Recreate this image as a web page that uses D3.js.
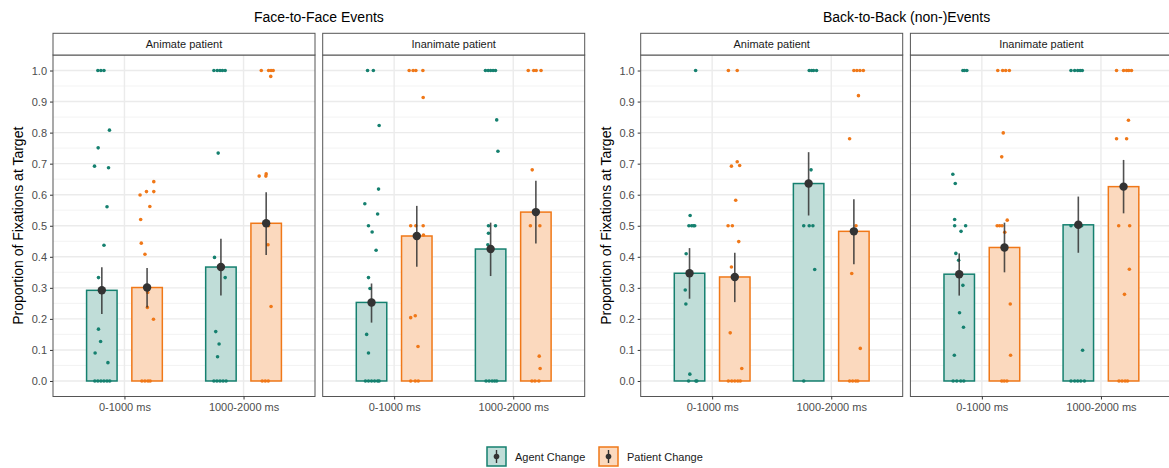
<!DOCTYPE html>
<html>
<head>
<meta charset="utf-8">
<script src="https://cdn.jsdelivr.net/npm/d3@7"></script>
<style>
  body { margin: 0; background: #fff; overflow: hidden; }
  svg { display: block; font-family: "Liberation Sans", Arial, sans-serif; }
</style>
</head>
<body>
<div id="chart"></div>
<script>
// chart data
var groupTitles = ["Face-to-Face Events", "Back-to-Back (non-)Events"];
var facetLabels = ["Animate patient", "Inanimate patient"];
var windows = ["0-1000 ms", "1000-2000 ms"];
var conditions = ["Agent Change", "Patient Change"];
var yTicks = [0, 0.1, 0.2, 0.3, 0.4, 0.5, 0.6, 0.7, 0.8, 0.9, 1.0];

// means per panel: [window][condition]
var meansF2F_Anim = [[0.292, 0.301], [0.367, 0.508]];
var meansF2F_Inan = [[0.253, 0.467], [0.425, 0.544]];
var meansB2B_Anim = [[0.347, 0.335], [0.636, 0.482]];
var meansB2B_Inan = [[0.344, 0.430], [0.503, 0.626]];

// error bar [low, high] per panel: [window][condition]
var ciF2F_Anim = [[[0.216, 0.366], [0.237, 0.364]], [[0.275, 0.458], [0.406, 0.608]]];
var ciF2F_Inan = [[[0.188, 0.314], [0.368, 0.564]], [[0.338, 0.510], [0.443, 0.645]]];
var ciB2B_Anim = [[[0.265, 0.428], [0.254, 0.413]], [[0.533, 0.737], [0.376, 0.585]]];
var ciB2B_Inan = [[[0.275, 0.411], [0.350, 0.510]], [[0.413, 0.594], [0.540, 0.712]]];

// individual observations [value, jitter (fraction of bar width)]
// order: [window][condition]
var obsF2F_Anim = [
  [
    [[1,-0.13],[1,-0.03],[1,0.07],[0.808,0.25],[0.751,-0.12],[0.692,-0.24],[0.687,0.22],[0.561,0.17],[0.437,0.07],[0.333,-0.11],[0.167,-0.11],[0.127,-0.04],[0.09,-0.22],[0.059,0.2],[0,-0.23],[0,-0.13],[0,-0.03],[0,0.07],[0,0.17],[0,0.26]],
    [[0.642,0.22],[0.61,-0.02],[0.61,0.22],[0.599,-0.23],[0.562,0.09],[0.52,-0.21],[0.444,-0.19],[0.408,-0.07],[0.285,0.02],[0.237,0.01],[0.199,0.21],[0,-0.17],[0,-0.07],[0,0.03],[0,0.1]]
  ],
  [
    [[1,-0.23],[1,-0.12],[1,-0.03],[1,0.05],[1,0.14],[0.734,-0.09],[0.398,-0.21],[0.333,0.14],[0.159,-0.17],[0.119,-0.06],[0.078,-0.11],[0,-0.23],[0,-0.13],[0,-0.03],[0,0.07],[0,0.17]],
    [[1,-0.16],[1,0.08],[1,0.16],[1,0.23],[0.981,0.15],[0.667,0],[0.66,-0.01],[0.66,-0.23],[0.5,0.08],[0.439,0.06],[0.24,0.16],[0,-0.13],[0,-0.03],[0,0.07]]
  ]
];
var obsF2F_Inan = [
  [
    [[1,-0.13],[1,0.06],[0.823,0.25],[0.618,0.23],[0.571,-0.22],[0.538,0.2],[0.5,-0.1],[0.48,0.02],[0.421,0.15],[0.333,-0.1],[0.298,-0.05],[0.15,-0.16],[0.09,-0.1],[0,-0.2],[0,-0.1],[0,0],[0,0.1],[0,0.2],[0,0.25]],
    [[1,-0.25],[1,-0.12],[1,-0.03],[1,0.2],[0.913,0.21],[0.5,-0.2],[0.5,-0.03],[0.5,0.21],[0.47,0.22],[0.21,-0.05],[0.204,-0.2],[0.111,0.04],[0,-0.2],[0,-0.05],[0,0.05]]
  ],
  [
    [[1,-0.17],[1,-0.08],[1,0],[1,0.08],[1,0.16],[0.841,0.2],[0.74,0.24],[0.5,-0.07],[0.5,0.16],[0.476,-0.07],[0.439,-0.09],[0,-0.15],[0,-0.05],[0,0.05],[0,0.13],[0,0.2]],
    [[1,-0.25],[1,-0.07],[1,0.01],[1,0.17],[0.68,-0.12],[0.5,-0.18],[0.5,0.13],[0.08,0.11],[0.04,0.14],[0,-0.13],[0,-0.03],[0,0.1]]
  ]
];
var obsB2B_Anim = [
  [
    [[1,0.2],[0.533,0.02],[0.5,-0.02],[0.5,0.07],[0.5,0.13],[0.5,0.17],[0.41,-0.11],[0.293,-0.14],[0.248,-0.12],[0.022,0.01],[0,-0.03],[0,0.21],[0,0.24]],
    [[1,-0.21],[1,0.08],[0.706,0.08],[0.694,0.16],[0.692,-0.11],[0.582,0.03],[0.5,-0.22],[0.5,-0.08],[0.449,0.13],[0.367,-0.11],[0.155,-0.15],[0.04,0.23],[0,-0.21],[0,-0.1],[0,0],[0,0.1],[0,0.18]]
  ],
  [
    [[1,0.02],[1,0.1],[1,0.16],[1,0.26],[0.68,0.08],[0.5,-0.16],[0.5,0.02],[0.5,0.14],[0.359,0.2],[0,-0.16]],
    [[1,0],[1,0.1],[1,0.2],[1,0.31],[0.919,0.15],[0.78,-0.14],[0.5,0.07],[0.346,-0.07],[0.105,0.21],[0,-0.14],[0,-0.04],[0,0.06],[0,0.13]]
  ]
];
var obsB2B_Inan = [
  [
    [[1,0.12],[1,0.17],[1,0.25],[0.666,-0.21],[0.636,-0.13],[0.52,-0.15],[0.5,-0.15],[0.5,0.21],[0.482,0.06],[0.411,-0.11],[0.389,-0.02],[0.308,0.12],[0.22,0.01],[0.173,0.14],[0.083,-0.16],[0,-0.2],[0,-0.08],[0,0.05],[0,0.15]],
    [[1,-0.22],[1,-0.06],[1,0.04],[1,0.16],[0.799,-0.04],[0.722,-0.09],[0.518,0.09],[0.5,-0.24],[0.5,-0.16],[0.5,-0.08],[0.479,0.01],[0.248,0.19],[0.083,0.2],[0,-0.09],[0,-0.01],[0,0.08]]
  ],
  [
    [[1,-0.24],[1,-0.12],[1,-0.02],[1,0.06],[1,0.13],[0.5,-0.24],[0.5,-0.08],[0.5,0.11],[0.099,0.14],[0,-0.24],[0,-0.12],[0,-0.02],[0,0.08],[0,0.2]],
    [[1,-0.23],[1,0],[1,0.1],[1,0.17],[1,0.26],[0.84,0.16],[0.78,-0.23],[0.78,0.1],[0.5,-0.16],[0.5,0.2],[0.36,0.19],[0.279,0.03],[0,-0.15],[0,-0.05],[0,0.05],[0,0.13]]
  ]
];

var lineColors = ["#15806f", "#f07818"];
var fillColors = ["#c0ddd8", "#fbd9be"];

var width = 1169, height = 468;
var svg = d3.select("#chart").append("svg")
  .attr("width", width)
  .attr("height", height);

var panelW = 262, plotTop = 55, plotBottom = 396.5, stripTop = 33.3;
var groupLeft = [53, 640.7];
var panelGap = 7.7;

// y scale (ggplot default expansion of 5%)
var y = d3.scaleLinear().domain([-0.05, 1.05]).range([plotBottom, plotTop]);

// panel list built from the arrays above
var panels = [
  { g: 0, f: 0, means: meansF2F_Anim, ci: ciF2F_Anim, obs: obsF2F_Anim },
  { g: 0, f: 1, means: meansF2F_Inan, ci: ciF2F_Inan, obs: obsF2F_Inan },
  { g: 1, f: 0, means: meansB2B_Anim, ci: ciB2B_Anim, obs: obsB2B_Anim },
  { g: 1, f: 1, means: meansB2B_Inan, ci: ciB2B_Inan, obs: obsB2B_Inan }
];

var dodge = 0.19, barW = 0.256;

// group titles and y-axis titles
groupTitles.forEach(function(t, gi) {
  var left = groupLeft[gi];
  svg.append("text")
    .attr("x", left + panelW + panelGap / 2)
    .attr("y", 22)
    .attr("text-anchor", "middle")
    .attr("font-size", 14)
    .attr("fill", "#000")
    .text(t);
  svg.append("text")
    .attr("transform", "translate(" + (left - 30) + "," + ((plotTop + plotBottom) / 2) + ") rotate(-90)")
    .attr("text-anchor", "middle")
    .attr("font-size", 14)
    .attr("fill", "#000")
    .text("Proportion of Fixations at Target");

  // y axis on the first panel of each group
  var ax = svg.append("g")
    .attr("transform", "translate(" + left + ",0)")
    .call(d3.axisLeft(y).tickValues(yTicks).tickFormat(d3.format(".1f")).tickSize(3).tickPadding(3));
  ax.select(".domain").remove();
  ax.selectAll(".tick line").attr("stroke", "#333").attr("stroke-width", 1);
  ax.selectAll(".tick text").attr("fill", "#4d4d4d").attr("font-size", 11)
    .attr("font-family", "Liberation Sans, Arial, sans-serif");
});

panels.forEach(function(p) {
  var x0 = groupLeft[p.g] + p.f * (panelW + panelGap);
  var g = svg.append("g").attr("transform", "translate(" + x0 + ",0)");
  var x = d3.scaleLinear().domain([0.4, 2.6]).range([0, panelW]);
  var unit = x(1) - x(0);

  // panel background + grid
  g.append("rect").attr("x", 0).attr("y", plotTop).attr("width", panelW)
    .attr("height", plotBottom - plotTop).attr("fill", "#fff");
  d3.range(-0.05, 1.06, 0.1).forEach(function(v) {
    g.append("line").attr("x1", 0).attr("x2", panelW).attr("y1", y(v)).attr("y2", y(v))
      .attr("stroke", "#f0f0f0").attr("stroke-width", 0.8);
  });
  yTicks.forEach(function(v) {
    g.append("line").attr("x1", 0).attr("x2", panelW).attr("y1", y(v)).attr("y2", y(v))
      .attr("stroke", "#ebebeb").attr("stroke-width", 1.4);
  });
  windows.forEach(function(w, wi) {
    g.append("line").attr("x1", x(wi + 1)).attr("x2", x(wi + 1))
      .attr("y1", plotTop).attr("y2", plotBottom)
      .attr("stroke", "#ebebeb").attr("stroke-width", 1.4);
  });

  // bars
  windows.forEach(function(w, wi) {
    conditions.forEach(function(c, ci) {
      var cx = x(wi + 1 + (ci === 0 ? -dodge : dodge));
      var m = p.means[wi][ci];
      g.append("rect")
        .attr("x", cx - barW * unit / 2)
        .attr("y", y(m))
        .attr("width", barW * unit)
        .attr("height", y(0) - y(m))
        .attr("fill", fillColors[ci])
        .attr("stroke", lineColors[ci])
        .attr("stroke-width", 1.5);
    });
  });

  // jittered observations
  windows.forEach(function(w, wi) {
    conditions.forEach(function(c, ci) {
      var cx = x(wi + 1 + (ci === 0 ? -dodge : dodge));
      g.selectAll(null).data(p.obs[wi][ci]).enter().append("circle")
        .attr("cx", function(d) { return cx + d[1] * barW * unit; })
        .attr("cy", function(d) { return y(d[0]); })
        .attr("r", 1.8)
        .attr("fill", lineColors[ci]);
    });
  });

  // error bars and means
  windows.forEach(function(w, wi) {
    conditions.forEach(function(c, ci) {
      var cx = x(wi + 1 + (ci === 0 ? -dodge : dodge));
      var r = p.ci[wi][ci];
      g.append("line").attr("x1", cx).attr("x2", cx)
        .attr("y1", y(r[0])).attr("y2", y(r[1]))
        .attr("stroke", "#333").attr("stroke-opacity", 0.85).attr("stroke-width", 1.6);
      g.append("circle").attr("cx", cx).attr("cy", y(p.means[wi][ci]))
        .attr("r", 4.2).attr("fill", "#333");
    });
  });

  // panel border
  g.append("rect").attr("x", 0).attr("y", plotTop).attr("width", panelW)
    .attr("height", plotBottom - plotTop).attr("fill", "none")
    .attr("stroke", "#555").attr("stroke-width", 1);

  // strip
  g.append("rect").attr("x", 0).attr("y", stripTop).attr("width", panelW)
    .attr("height", plotTop - stripTop).attr("fill", "#fff")
    .attr("stroke", "#555").attr("stroke-width", 1);
  g.append("text").attr("x", panelW / 2).attr("y", (stripTop + plotTop) / 2 + 4)
    .attr("text-anchor", "middle").attr("font-size", 11).attr("fill", "#1a1a1a")
    .text(facetLabels[p.f]);

  // x axis
  var xa = g.append("g").attr("transform", "translate(0," + plotBottom + ")")
    .call(d3.axisBottom(x).tickValues([1, 2]).tickFormat(function(d) { return windows[d - 1]; })
      .tickSize(3).tickPadding(4));
  xa.select(".domain").remove();
  xa.selectAll(".tick line").attr("stroke", "#333");
  xa.selectAll(".tick text").attr("fill", "#4d4d4d").attr("font-size", 11)
    .attr("font-family", "Liberation Sans, Arial, sans-serif");
});

// legend
var legend = svg.append("g").attr("transform", "translate(487,447)");
var legendX = [0, 112];
conditions.forEach(function(c, ci) {
  var lg = legend.append("g").attr("transform", "translate(" + legendX[ci] + ",0)");
  lg.append("rect").attr("x", 0).attr("y", 0).attr("width", 19).attr("height", 19)
    .attr("fill", fillColors[ci]).attr("stroke", lineColors[ci]).attr("stroke-width", 1.5);
  lg.append("line").attr("x1", 9.5).attr("x2", 9.5).attr("y1", 3).attr("y2", 16)
    .attr("stroke", "#333").attr("stroke-width", 1.4);
  lg.append("circle").attr("cx", 9.5).attr("cy", 9.5).attr("r", 2.8).attr("fill", "#333");
  lg.append("text").attr("x", 28).attr("y", 13.5).attr("font-size", 11).attr("fill", "#1a1a1a")
    .text(c);
});
</script>
</body>
</html>
